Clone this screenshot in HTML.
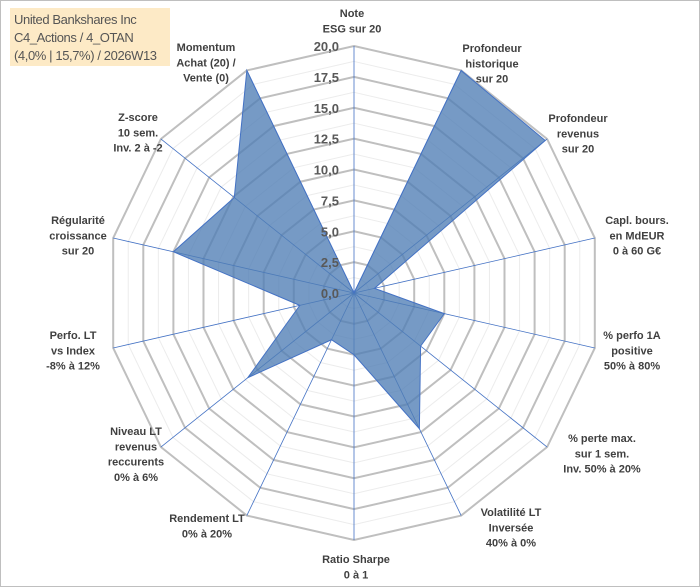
<!DOCTYPE html>
<html><head><meta charset="utf-8"><style>
html,body{margin:0;padding:0;background:#fff;}
#wrap{position:relative;width:698px;height:585px;border:1px solid #bfbfbf;overflow:hidden;}
#title{position:absolute;left:9px;top:7px;width:160px;height:58px;background:#fdeac6;color:#555;font:13px "Liberation Sans",sans-serif;line-height:18px;padding:3px 0 0 4px;box-sizing:border-box;white-space:nowrap;letter-spacing:-0.4px}
svg{position:absolute;left:0;top:0}
</style></head><body>
<div id="wrap">
<svg id="chart" width="700" height="587"></svg>
<div id="title">United Bankshares Inc<br>C4_Actions / 4_OTAN<br>(4,0% | 15,7%) / 2026W13</div>
</div>
<script>
const categories=[["Note","ESG sur 20"],["Profondeur","historique","sur 20"],["Profondeur","revenus","sur 20"],["Capl. bours.","en MdEUR","0 à 60 G€"],["% perfo 1A","positive","50% à 80%"],["% perte max.","sur 1 sem.","Inv. 50% à 20%"],["Volatilité LT","Inversée","40% à 0%"],["Ratio Sharpe","0 à 1"],["Rendement LT","0% à 20%"],["Niveau LT","revenus","reccurents","0% à 6%"],["Perfo. LT","vs Index","-8% à 12%"],["Régularité","croissance","sur 20"],["Z-score","10 sem.","Inv. 2 à -2"],["Momentum","Achat (20) /","Vente (0)"]];
const values=[0,20,19.8,1.7,7.5,6.9,12.2,5.0,4.2,11,4.5,15,12.4,20];
const tickLabels=["0,0","2,5","5,0","7,5","10,0","12,5","15,0","17,5","20,0"];
const labelPos=[[351,12],[491,47],[577,117],[636,219],[631,334],[601,437],[510,511],[355,558],[206,517],[135,430],[72,334],[77,219],[137,116],[205,46]];
const NS="http://www.w3.org/2000/svg";
const svg=document.getElementById('chart');
const cx=353,cy=292,R=247,maxV=20,N=categories.length;
function ang(i){return i*2*Math.PI/N;}
function pt(i,v){const r=v/maxV*R;return [cx+r*Math.sin(ang(i)),cy-r*Math.cos(ang(i))];}
function mk(t,a){const e=document.createElementNS(NS,t);for(const k in a)e.setAttribute(k,a[k]);svg.appendChild(e);return e;}
for(let s=1;s<=16;s++){const v=s*1.25;const pts=[];for(let i=0;i<N;i++)pts.push(pt(i,v).join(','));
const major=s%2===0;
const g=mk('polygon',{points:pts.join(' '),fill:'none',stroke:major?'#bfbfbf':'#ececec','stroke-width':major?2:1});

}
for(let i=0;i<N;i++){const p=pt(i,maxV);
const l=mk('line',{x1:cx,y1:cy,x2:p[0],y2:p[1],stroke:'#4472c4','stroke-width':0.8});

}
const sp=values.map((v,i)=>pt(i,v).join(',')).join(' ');
const poly=mk('polygon',{points:sp,fill:'#4f7db5','fill-opacity':0.78,stroke:'#4472c4','stroke-width':1});


tickLabels.forEach((t,k)=>{const v=k*2.5;const y=cy-v/maxV*R;
const e=mk('text',{x:338,y:y+5,'text-anchor':'end','font-family':'Liberation Sans, sans-serif','font-size':13,'font-weight':'bold',fill:'#595959'});
e.textContent=t;

});
categories.forEach((lines,i)=>{const [x,y]=labelPos[i];
const e=mk('text',{x:x,y:y+4,'text-anchor':'middle','font-family':'Liberation Sans, sans-serif','font-size':11,'font-weight':'bold',fill:'#404040'});
lines.forEach((ln,j)=>{const ts=document.createElementNS(NS,'tspan');ts.setAttribute('x',x);ts.setAttribute('dy',j===0?0:15.3);ts.textContent=ln;e.appendChild(ts);});

});
</script>
</body></html>
